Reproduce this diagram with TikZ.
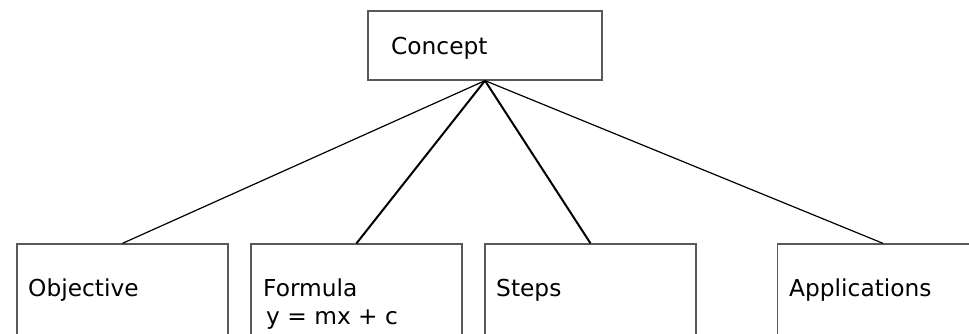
\documentclass[tikz,border=0pt]{standalone}
\usepackage{fontspec}
\setmainfont{DejaVu Sans}
\begin{document}
\begin{tikzpicture}[x=1pt,y=-1pt,
  box/.style={draw=black!65, line width=1.3pt, rectangle, inner sep=0pt, fill=white},
  lbl/.style={anchor=base west, inner sep=0pt, font=\fontsize{23.3}{27}\selectfont},
  thin link/.style={line width=1.2pt},
  thick link/.style={line width=2pt}]
  \useasboundingbox (0,0) rectangle (969,334);
  \clip (0,0) rectangle (969,334);
  % top box
  \node[box, minimum width=234pt, minimum height=69pt] (concept) at (485,45.5) {};
  \node[lbl] (tconcept) at (391,55) {Concept};
  % bottom row of boxes (running past the lower edge)
  \node[box, minimum width=211pt, minimum height=130pt] (objective) at (122.5,309) {};
  \node[box, minimum width=211pt, minimum height=130pt] (formula) at (356.5,309) {};
  \node[box, minimum width=211pt, minimum height=130pt] (steps) at (590.5,309) {};
  \node[box, minimum width=211pt, minimum height=130pt] (applications) at (883,309) {};
  \node[lbl] (tobjective) at (28,296) {Objective};
  \node[lbl] (tformula) at (263,296) {Formula};
  \node[lbl] (tformula2) at (266,324) {y = mx + c};
  \node[lbl] (tsteps) at (496,296) {Steps};
  \node[lbl] (tapplications) at (789,296) {Applications};
  % connectors
  \draw[thin link] (concept.south) -- (objective.north);
  \draw[thick link] (concept.south) -- (formula.north);
  \draw[thick link] (concept.south) -- (steps.north);
  \draw[thin link] (concept.south) -- (applications.north);
\end{tikzpicture}
\end{document}
